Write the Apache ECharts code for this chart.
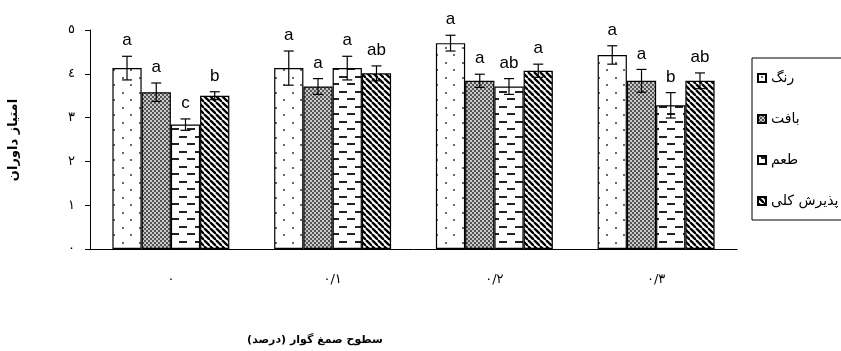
<!DOCTYPE html>
<html>
<head>
<meta charset="utf-8">
<script src="https://cdn.jsdelivr.net/npm/echarts@6/dist/echarts.min.js"></script>
<style>
  html, body { margin: 0; padding: 0; background: #fff; }
  #chart { width: 841px; height: 351px; }
</style>
</head>
<body>
<div id="chart"></div>
<script>
// Guar gum levels (percent) on the category axis
const categories = ['٠', '٠/١', '٠/٢', '٠/٣'];
const seriesNames = ['رنگ', 'بافت', 'طعم', 'پذیرش کلی'];
const yTickLabels = ['٠', '١', '٢', '٣', '٤', '٥'];

// Mean panel scores
const colorScores   = [4.13, 4.13, 4.70, 4.43];
const textureScores = [3.58, 3.71, 3.84, 3.84];
const tasteScores   = [2.84, 4.13, 3.71, 3.28];
const overallScores = [3.50, 4.01, 4.07, 3.84];

// Standard errors
const colorErr   = [0.27, 0.39, 0.18, 0.21];
const textureErr = [0.21, 0.18, 0.15, 0.26];
const tasteErr   = [0.13, 0.27, 0.18, 0.29];
const overallErr = [0.09, 0.17, 0.15, 0.18];

// Significance letters
const colorLetters   = ['a', 'a', 'a', 'a'];
const textureLetters = ['a', 'a', 'a', 'a'];
const tasteLetters   = ['c', 'a', 'ab', 'b'];
const overallLetters = ['b', 'ab', 'a', 'ab'];

const FA_FONT = "'DejaVu Sans', sans-serif";
const CAT_GAP = 0.277;

// ---- fill patterns ----
function makeTile(w, h, draw) {
  const c = document.createElement('canvas');
  c.width = w; c.height = h;
  const ctx = c.getContext('2d');
  ctx.fillStyle = '#fff';
  ctx.fillRect(0, 0, w, h);
  draw(ctx, w, h);
  return { image: c, repeat: 'repeat' };
}
const dotFill = makeTile(17, 15, (ctx) => {
  ctx.fillStyle = '#6a6a6a';
  ctx.fillRect(3, 2, 2, 2);
  ctx.fillRect(11, 9, 2, 2);
});
const checkFill = makeTile(4, 4, (ctx) => {
  ctx.fillStyle = '#c8c8c8';
  ctx.fillRect(0, 0, 4, 4);
  ctx.fillStyle = '#555';
  ctx.fillRect(0, 0, 2, 2);
  ctx.fillRect(2, 2, 2, 2);
});
const dashFill = makeTile(16, 15, (ctx) => {
  ctx.fillStyle = '#222';
  ctx.fillRect(3, 1, 8, 2);
  ctx.fillRect(11, 8, 5, 2);
  ctx.fillRect(0, 8, 3, 2);
});
const stripeFill = makeTile(6, 6, (ctx) => {
  ctx.strokeStyle = '#000';
  ctx.lineWidth = 2.3;
  for (let x = -6; x <= 6; x += 6) {
    ctx.beginPath();
    ctx.moveTo(x, 0);
    ctx.lineTo(x + 6, 6);
    ctx.stroke();
  }
});
const fills = [dotFill, checkFill, dashFill, stripeFill];

const means = [colorScores, textureScores, tasteScores, overallScores];
const errs = [colorErr, textureErr, tasteErr, overallErr];
const letters = [colorLetters, textureLetters, tasteLetters, overallLetters];

const barSeries = seriesNames.map((name, i) => ({
  name: name,
  type: 'bar',
  data: means[i],
  barGap: '0%',
  barCategoryGap: (CAT_GAP * 100) + '%',
  itemStyle: { color: fills[i], borderColor: '#000', borderWidth: 1.2 },
  z: 2
}));

// error bars with letters above, placed on the same band slots as the bars
const errSeries = seriesNames.map((name, i) => ({
  type: 'custom',
  data: means[i].map((m, k) => [k, m, errs[i][k]]),
  z: 5,
  silent: true,
  renderItem: function (params, api) {
    const cat = api.value(0), mean = api.value(1), err = api.value(2);
    const band = api.size([1, 0])[0];
    const bw = band * (1 - CAT_GAP) / 4;
    const x = api.coord([cat, mean])[0] + (i - 1.5) * bw;
    const top = api.coord([cat, mean + err])[1];
    const bot = api.coord([cat, mean - err])[1];
    const cap = 5;
    const ls = { stroke: '#000', lineWidth: 1.2 };
    return {
      type: 'group',
      children: [
        { type: 'line', shape: { x1: x, y1: top, x2: x, y2: bot }, style: ls },
        { type: 'line', shape: { x1: x - cap, y1: top, x2: x + cap, y2: top }, style: ls },
        { type: 'line', shape: { x1: x - cap, y1: bot, x2: x + cap, y2: bot }, style: ls },
        {
          type: 'text',
          style: {
            text: letters[i][params.dataIndex],
            x: x, y: top - 7,
            align: 'center', verticalAlign: 'bottom',
            fontSize: 17, fontFamily: "'Liberation Sans', Arial, sans-serif",
            fill: '#000'
          }
        }
      ]
    };
  }
}));

const chart = echarts.init(document.getElementById('chart'), null, { renderer: 'canvas' });
chart.setOption({
  animation: false,
  backgroundColor: '#fff',
  grid: { left: 90, right: 104, top: 30, bottom: 102 },
  legend: {
    orient: 'vertical',
    left: 752, top: 58,
    data: seriesNames,
    icon: 'rect',
    itemWidth: 8, itemHeight: 8,
    itemGap: 27,
    padding: [13, 60, 12, 5],
    borderColor: '#000', borderWidth: 1,
    selectedMode: false,
    align: 'left',
    textStyle: { fontSize: 14, color: '#000', fontFamily: FA_FONT }
  },
  xAxis: {
    type: 'category',
    data: categories,
    axisLine: { lineStyle: { color: '#000', width: 1 } },
    axisTick: { length: 5, lineStyle: { color: '#000' } },
    axisLabel: { margin: 24, fontSize: 13, color: '#000', fontFamily: FA_FONT }
  },
  yAxis: {
    type: 'value',
    min: 0, max: 5, interval: 1,
    splitLine: { show: false },
    axisLine: { show: true, lineStyle: { color: '#000', width: 1 } },
    axisTick: { show: true, length: 5, lineStyle: { color: '#000' } },
    axisLabel: {
      margin: 15, fontSize: 13, color: '#000', fontFamily: FA_FONT,
      padding: [0, 0, 14, 0],
      formatter: (v) => yTickLabels[v]
    }
  },
  graphic: [
    {
      type: 'text',
      x: 315, y: 340,
      style: {
        text: '\u200Fسطوح صمغ گوار (درصد)\u200F',
        align: 'center', verticalAlign: 'middle',
        font: "bold 11px 'DejaVu Sans', sans-serif", fill: '#000'
      }
    },
    {
      type: 'text',
      x: 14, y: 140,
      rotation: Math.PI / 2,
      style: {
        text: 'امتیاز داوران',
        align: 'center', verticalAlign: 'middle',
        font: "bold 13px 'DejaVu Sans', sans-serif", fill: '#000'
      }
    }
  ],
  series: barSeries.concat(errSeries)
});
</script>
</body>
</html>
